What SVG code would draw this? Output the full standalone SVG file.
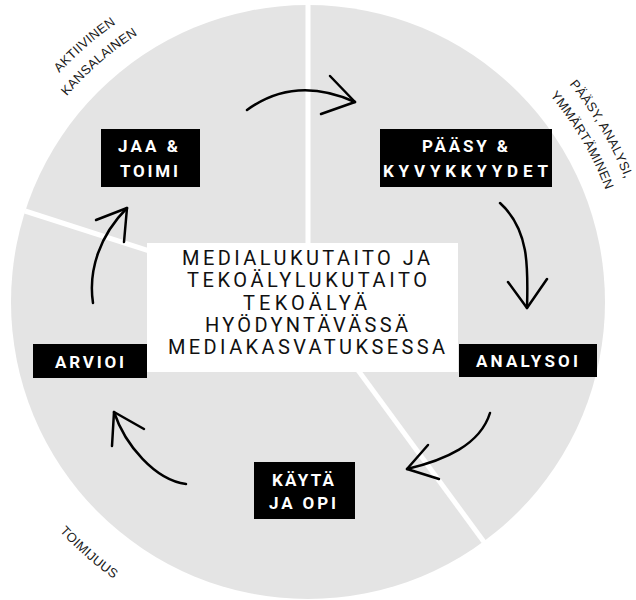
<svg xmlns="http://www.w3.org/2000/svg" width="636" height="600" viewBox="0 0 636 600">
<style>
.box{fill:#000}
.bt{fill:#fff;font-family:Roboto,"Liberation Sans",sans-serif;font-weight:bold;font-size:17px}
.ct{fill:#111;font-family:Roboto,"Liberation Sans",sans-serif;font-size:20px}
.ol{fill:#1a1a1a;font-family:"Liberation Sans",Arial,sans-serif;font-size:13px;letter-spacing:0.3px}
.arr{fill:none;stroke:#000;stroke-width:2.5;stroke-linecap:round;stroke-linejoin:round}
.div{stroke:#fff;stroke-width:5}
</style>
<defs>
<path id="pA" d="M -30 302 A 338 338 0 0 1 308 -36"/>
<path id="pK" d="M -9 302 A 317 317 0 0 1 308 -15"/>
<path id="pP" d="M 308 -38 A 340 340 0 0 1 648 302"/>
<path id="pY" d="M 308 -16 A 318 318 0 0 1 626 302"/>
<path id="pT" d="M -30 302 A 338 338 0 0 0 308 640"/>
</defs>
<g id="background">
<circle cx="308" cy="302" r="297" fill="#e4e4e4"/>
<line class="div" x1="308" y1="302" x2="308" y2="0"/>
<line class="div" x1="308" y1="302" x2="25" y2="211"/>
<line class="div" x1="308" y1="302" x2="484" y2="542"/>
</g>
<g id="outer-labels">
<text class="ol" text-anchor="middle"><textPath href="#pA" startOffset="289">AKTIIVINEN</textPath><textPath href="#pK" startOffset="271">KANSALAINEN</textPath></text>
<text class="ol" text-anchor="middle"><textPath href="#pP" startOffset="353">PÄÄSY, ANALYSI,</textPath><textPath href="#pY" startOffset="330">YMMÄRTÄMINEN</textPath></text>
<text class="ol" text-anchor="middle"><textPath href="#pT" startOffset="288">TOIMIJUUS</textPath></text>
</g>
<g id="connectors">
<path class="arr" d="M247,110 Q295,75 355,102"/>
<path class="arr" d="M330,76 L355,102 L321,114"/>
<path class="arr" d="M500,203 C530,230 528,270 527,308"/>
<path class="arr" d="M508,282 L527,308 L547,279"/>
<path class="arr" d="M490,413 C480,445 445,460 407,469"/>
<path class="arr" d="M428,445 L407,469 L439,479"/>
<path class="arr" d="M186,484 C155,480 125,445 114,412"/>
<path class="arr" d="M144,429 L114,412 L112,446"/>
<path class="arr" d="M93,303 C88,270 100,235 127,208"/>
<path class="arr" d="M96,220 L127,208 L124,242"/>
</g>
<g id="center">
<rect x="147" y="243" width="311" height="129" fill="#fff"/>
<text class="ct" x="182" y="265" textLength="248" lengthAdjust="spacing">MEDIALUKUTAITO JA</text>
<text class="ct" x="187" y="287" textLength="240" lengthAdjust="spacing">TEKOÄLYLUKUTAITO</text>
<text class="ct" x="243" y="310" textLength="124" lengthAdjust="spacing">TEKOÄLYÄ</text>
<text class="ct" x="205" y="332" textLength="203" lengthAdjust="spacing">HYÖDYNTÄVÄSSÄ</text>
<text class="ct" x="168" y="354" textLength="277" lengthAdjust="spacing">MEDIAKASVATUKSESSA</text>
</g>
<g id="jaa-toimi">
<rect class="box" x="101" y="129" width="99" height="58"/>
<text class="bt" x="118" y="152" textLength="60" lengthAdjust="spacing">JAA &amp;</text>
<text class="bt" x="120" y="177" textLength="58" lengthAdjust="spacing">TOIMI</text>
</g>
<g id="paasy">
<rect class="box" x="380" y="129" width="172" height="58"/>
<text class="bt" x="422" y="152" textLength="86" lengthAdjust="spacing">PÄÄSY &amp;</text>
<text class="bt" x="383" y="177" textLength="165" lengthAdjust="spacing">KYVYKKYYDET</text>
</g>
<g id="arvioi">
<rect class="box" x="33" y="344" width="114" height="34"/>
<text class="bt" x="55" y="368" textLength="69" lengthAdjust="spacing">ARVIOI</text>
</g>
<g id="analysoi">
<rect class="box" x="459" y="344" width="138" height="33"/>
<text class="bt" x="476" y="367" textLength="102" lengthAdjust="spacing">ANALYSOI</text>
</g>
<g id="kayta">
<rect class="box" x="254" y="462" width="101" height="57"/>
<text class="bt" x="272" y="486" textLength="62" lengthAdjust="spacing">KÄYTÄ</text>
<text class="bt" x="269" y="509" textLength="67" lengthAdjust="spacing">JA OPI</text>
</g>
</svg>
